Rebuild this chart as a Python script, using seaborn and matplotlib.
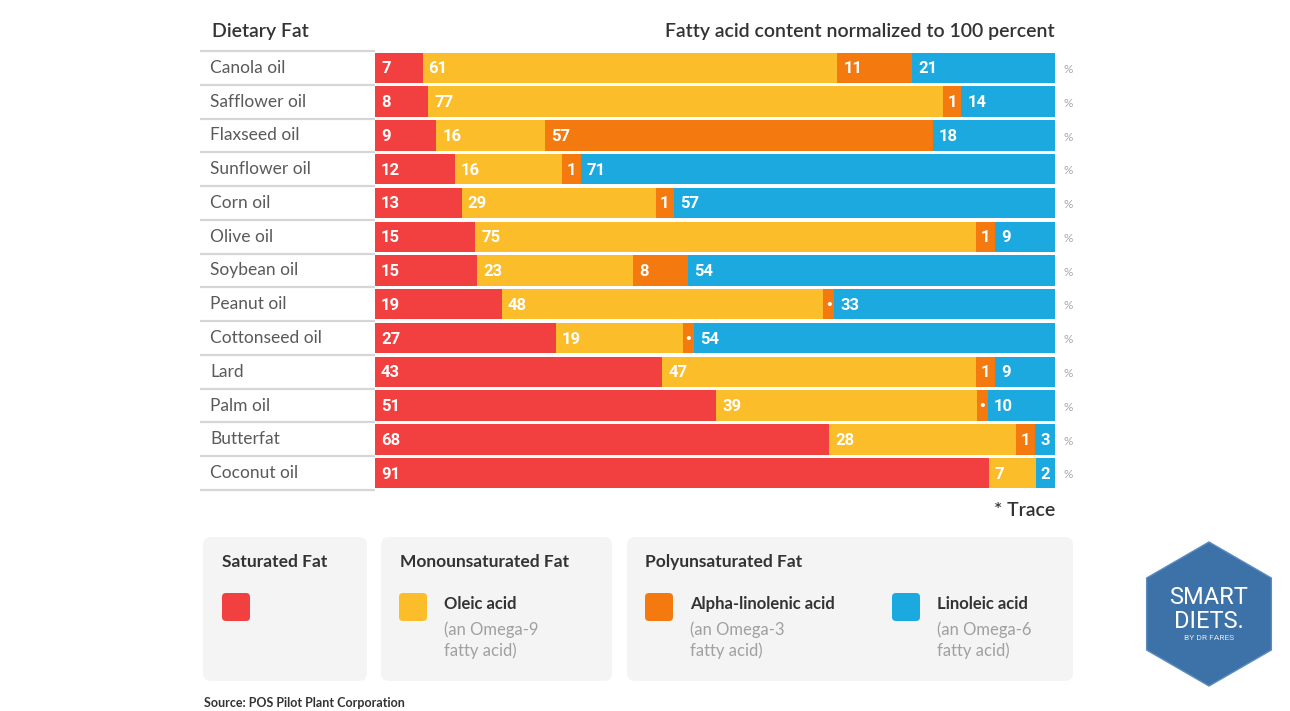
import numpy as np
import pandas as pd
import matplotlib
matplotlib.use("Agg")
import matplotlib.pyplot as plt
import seaborn as sns
from matplotlib.patches import FancyBboxPatch, RegularPolygon

# ---------------- data ----------------
oils = ["Canola oil", "Safflower oil", "Flaxseed oil", "Sunflower oil", "Corn oil",
        "Olive oil", "Soybean oil", "Peanut oil", "Cottonseed oil", "Lard",
        "Palm oil", "Butterfat", "Coconut oil"]
saturated = [7, 8, 9, 12, 13, 15, 15, 19, 27, 43, 51, 68, 91]
oleic = [61, 77, 16, 16, 29, 75, 23, 48, 19, 47, 39, 28, 7]
alpha_linolenic = [11, 1, 57, 1, 1, 1, 8, 0, 0, 1, 0, 1, 0]
linoleic = [21, 14, 18, 71, 57, 9, 54, 33, 54, 9, 10, 3, 2]
trace = [False, False, False, False, False, False, False, True, True, False, True, False, False]

series_names = ["Saturated Fat", "Oleic acid", "Alpha-linolenic acid", "Linoleic acid"]
colors = ["#f23f3f", "#fcbd2b", "#f47a10", "#1ba9e0"]

# display styling: minimum drawn widths so small labels fit
TRACE_W = 1.7
MIN_W = 2.8

# --------------- figure ---------------
sns.set_theme(style="white")
plt.rcParams['font.family'] = ['Lato', 'DejaVu Sans']

W, H = 1290, 711
fig = plt.figure(figsize=(W / 100, H / 100), dpi=100)
fig.patch.set_facecolor("white")

ov = fig.add_axes([0, 0, 1, 1], zorder=0)
ov.set_xlim(0, W)
ov.set_ylim(H, 0)
ov.axis("off")

x0, x1, y0, y1 = 375, 1055, 51, 490
ax = fig.add_axes([x0 / W, 1 - y1 / H, (x1 - x0) / W, (y1 - y0) / H], zorder=2)
ax.set_facecolor("none")

vals = [saturated, oleic, alpha_linolenic, linoleic]
disp = []
for k in range(4):
    row = []
    for i in range(len(oils)):
        v = vals[k][i]
        if k == 2 and trace[i]:
            row.append(TRACE_W)
        elif v > 0:
            row.append(max(v, MIN_W))
        else:
            row.append(0.0)
    disp.append(np.array(row, dtype=float))
tot = sum(disp)
segs = [d / tot * 100 for d in disp]
cums = np.cumsum(np.vstack(segs), axis=0)

df = pd.DataFrame({"oil": oils})
for k in range(4):
    df[f"c{k}"] = cums[k]

for k in [3, 2, 1, 0]:
    sns.barplot(data=df, x=f"c{k}", y="oil", order=oils, orient="h", color=colors[k],
                saturation=1, width=0.9, linewidth=0, ax=ax)

ax.set_xlim(0, 100)
ax.set_ylim(12.5, -0.5)
for s in ax.spines.values():
    s.set_visible(False)
ax.set_xticks([])
ax.set_yticks([])
ax.set_xlabel("")
ax.set_ylabel("")

px = 100 / (x1 - x0)  # data units per pixel
for i in range(len(oils)):
    left = 0
    for k in range(4):
        w = segs[k][i]
        if w > 0:
            if k == 2 and trace[i]:
                ax.text(left + w / 2, i, "•", color="white", fontsize=7,
                        ha="center", va="center", fontweight="bold")
            elif vals[k][i] < 10 and w < 4.5:
                ax.text(left + w / 2, i + 0.03, str(vals[k][i]), color="white", fontsize=12,
                        ha="center", va="center", fontweight="bold", family="Roboto")
            else:
                ax.text(left + 6 * px, i + 0.03, str(vals[k][i]), color="white", fontsize=12,
                        ha="left", va="center", fontweight="bold", family="Roboto")
        left += w
    ax.text(-(x0 - 210) * px, i, oils[i], color="#5a5a5a", fontsize=12.5,
            ha="left", va="center")
    ax.text((1068 - x0) * px, i + 0.05, "%", color="#a8a8a8", fontsize=8.5,
            ha="center", va="center")

# row separators in label column
ax.hlines(np.arange(-0.5, 13, 1), -(x0 - 200) * px, 0, colors="#d6d6d6", lw=1.6,
          clip_on=False)

# headers
ov.text(212, 31, "Dietary Fat", fontsize=14, color="#333333", ha="left", va="center",
        fontweight="semibold")
ov.text(1055, 31, "Fatty acid content normalized to 100 percent", fontsize=14,
        color="#333333", ha="right", va="center", fontweight="semibold")
ov.text(1055, 511, "* Trace", fontsize=14, color="#333333", ha="right", va="center",
        fontweight="semibold")

# legend boxes
for bx0, bx1 in [(203, 367), (381, 612), (627, 1073)]:
    ov.add_patch(FancyBboxPatch((bx0, 537), bx1 - bx0, 144,
                                boxstyle="round,pad=0,rounding_size=8",
                                fc="#f4f4f4", ec="none"))

title_kw = dict(fontsize=12.5, color="#333333", ha="left", va="center", fontweight="bold")
ov.text(222, 562, "Saturated Fat", **title_kw)
ov.text(400, 562, "Monounsaturated Fat", **title_kw)
ov.text(645, 562, "Polyunsaturated Fat", **title_kw)

sw = [(222, colors[0], None), (399, colors[1], ("Oleic acid", "(an Omega-9", "fatty acid)")),
      (645, colors[2], ("Alpha-linolenic acid", "(an Omega-3", "fatty acid)")),
      (892, colors[3], ("Linoleic acid", "(an Omega-6", "fatty acid)"))]
for sx, c, txt in sw:
    ov.add_patch(FancyBboxPatch((sx, 593), 28, 28, boxstyle="round,pad=0,rounding_size=4",
                                fc=c, ec="none"))
    if txt:
        ov.text(sx + 45, 604, txt[0], fontsize=12, color="#333333", ha="left", va="center",
                fontweight="bold")
        ov.text(sx + 45, 630, txt[1], fontsize=12, color="#a0a0a0", ha="left", va="center")
        ov.text(sx + 45, 651, txt[2], fontsize=12, color="#a0a0a0", ha="left", va="center")

ov.text(204, 703, "Source: POS Pilot Plant Corporation", fontsize=9, color="#333333",
        ha="left", va="center", fontweight="bold")

# logo
ov.add_patch(RegularPolygon((1209, 614), numVertices=6, radius=72, orientation=0,
                            fc="#3d72a8", ec="#5a8cc0", lw=1))
ov.text(1209, 598, "SMART", fontsize=17, color="white", ha="center", va="center",
        family="Roboto", fontstretch="condensed")
ov.text(1209, 622, "DIETS.", fontsize=17, color="white", ha="center", va="center",
        family="Roboto", fontstretch="condensed")
ov.text(1209, 638, "BY DR FARES", fontsize=6, color="#dfe8f2", ha="center", va="center",
        family="Roboto")

fig.savefig("out.png", dpi=100, facecolor="white")
